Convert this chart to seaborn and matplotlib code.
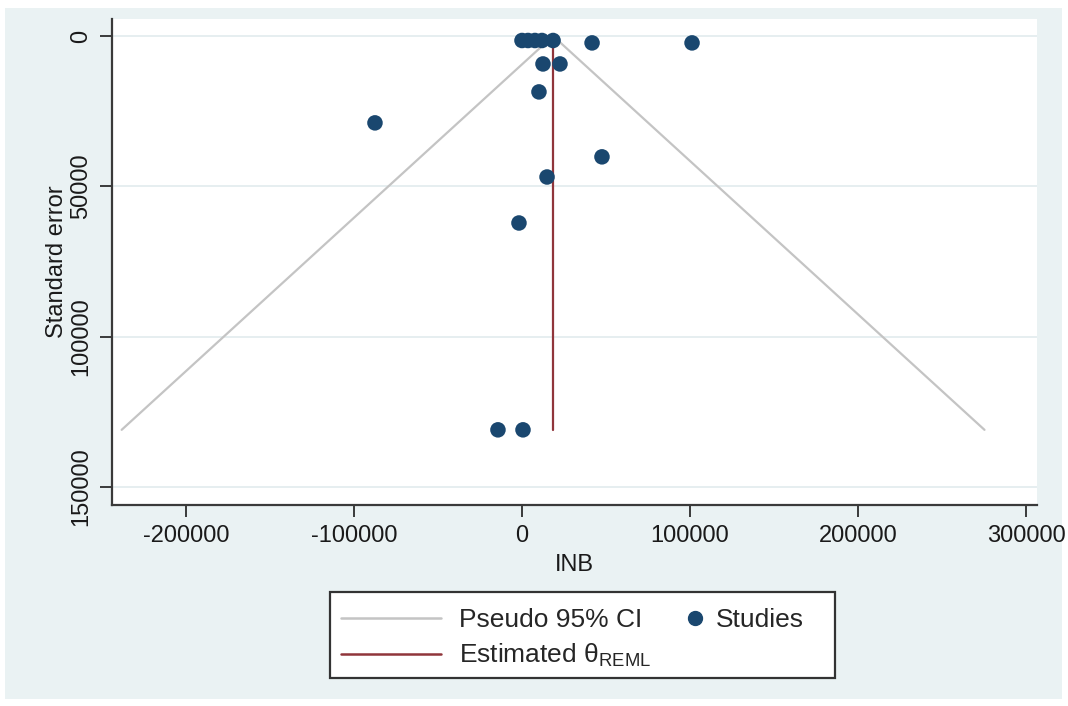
import matplotlib
matplotlib.use("Agg")
import matplotlib.pyplot as plt
from matplotlib.lines import Line2D
from matplotlib.legend_handler import HandlerBase
from matplotlib.patches import Rectangle
import numpy as np
import pandas as pd
import seaborn as sns

# Study estimates (incremental net benefit) and their standard errors
inb = [0, 3600, 7700, 11900, 18500, 41700, 101200,
       12500, 22600, 10100, -87500, 47600, 14900, -1800,
       -14300, 600]
std_err = [1500, 1500, 1500, 1500, 1500, 2300, 2300,
           9300, 9300, 18600, 28900, 40200, 46900, 62200,
           131000, 131000]

# Pooled REML estimate and the largest standard error for the funnel
theta_reml = 18500
se_max = 131000
z95 = 1.96

x_ticks = [-200000, -100000, 0, 100000, 200000, 300000]
y_ticks = [0, 50000, 100000, 150000]

studies = pd.DataFrame({"INB": inb, "SE": std_err})

sns.set_theme(style="white")
plt.rcParams["font.family"] = ["Liberation Sans", "DejaVu Sans"]
plt.rcParams["mathtext.fontset"] = "custom"
plt.rcParams["mathtext.rm"] = "Liberation Sans"
plt.rcParams["mathtext.it"] = "Liberation Sans:italic"

BG = "#eaf2f3"
NAVY = "#1a476f"
MAROON = "#90353b"
FUNNEL = "#c4c4c4"
AXIS = "#3a3a3a"

W, H = 1068, 706
fig = plt.figure(figsize=(W / 100, H / 100), dpi=100, facecolor="white")
fig.add_artist(Rectangle((5 / W, 1 - 699 / H), (1062 - 5) / W, (699 - 8) / H,
                         transform=fig.transFigure, facecolor=BG,
                         edgecolor="none", zorder=-10))

ax = fig.add_axes([112 / W, 1 - 505 / H, (1037 - 112) / W, (505 - 19) / H])
ax.set_facecolor("white")

# Horizontal grid at the y ticks
for yv in y_ticks:
    ax.axhline(yv, color="#e6eef0", lw=1.4, zorder=0)

# Pseudo 95% confidence limits
half = z95 * se_max
ax.plot([theta_reml - half, theta_reml, theta_reml + half],
        [se_max, 0, se_max], color=FUNNEL, lw=1.6, zorder=1)

# Estimated effect
ax.plot([theta_reml, theta_reml], [0, se_max], color=MAROON, lw=1.6, zorder=2)

sns.scatterplot(data=studies, x="INB", y="SE", ax=ax, color=NAVY, s=125,
                edgecolor="none", linewidth=0, zorder=3, legend=False)

ax.set_xlim(-244000, 306500)
ax.set_ylim(156000, -5650)
ax.set_xticks(x_ticks)
ax.set_xticklabels([str(v) for v in x_ticks])
ax.set_yticks(y_ticks)
ax.set_yticklabels([str(v) for v in y_ticks])

for side in ("top", "right"):
    ax.spines[side].set_visible(False)
for side in ("left", "bottom"):
    ax.spines[side].set_color(AXIS)
    ax.spines[side].set_linewidth(1.6)

ax.tick_params(axis="both", which="major", direction="out", length=8.5,
               width=1.4, color=AXIS, labelsize=17, labelcolor="#1a1a1a",
               pad=6, bottom=True, left=True)
ax.tick_params(axis="y", labelrotation=90)
for lab in ax.get_yticklabels():
    lab.set_va("center")

ax.set_xlabel("INB", fontsize=17, color="#1a1a1a", labelpad=5)
ax.set_ylabel("Standard error", fontsize=17, color="#1a1a1a", labelpad=1)


class DotHandler(HandlerBase):
    """Draw the study marker near the right end of the handle box."""

    def create_artists(self, legend, orig_handle, xdescent, ydescent,
                       width, height, fontsize, trans):
        dot = Line2D([width - 0.11 * fontsize], [height / 2 - ydescent],
                     marker="o", markersize=orig_handle.get_markersize(),
                     color=orig_handle.get_color(), linestyle="none",
                     transform=trans)
        return [dot]


h_ci = Line2D([], [], color=FUNNEL, lw=1.8)
h_theta = Line2D([], [], color=MAROON, lw=1.8)
h_study = Line2D([], [], color=NAVY, marker="o", markersize=10,
                 linestyle="none")

# Legend box drawn as a plain rectangle below the axes
fig.add_artist(Rectangle((330 / W, 1 - 678 / H), (835 - 330) / W, (678 - 592) / H,
                         transform=fig.transFigure, facecolor="white",
                         edgecolor="#333333", linewidth=1.6, zorder=5))

leg = fig.legend([h_ci, h_theta, h_study],
                 ["Pseudo 95% CI", r"Estimated θ$_{\mathrm{REML}}$", "Studies"],
                 handler_map={h_study: DotHandler()},
                 loc="upper left", bbox_to_anchor=(329 / W, 1 - 596 / H),
                 ncol=2, fontsize=19, frameon=False,
                 handlelength=3.79, handletextpad=0.68, columnspacing=-2.0,
                 labelspacing=0.38, borderpad=0.45, borderaxespad=0)
leg.set_zorder(6)

fig.savefig("out.png", dpi=100, facecolor="white")
